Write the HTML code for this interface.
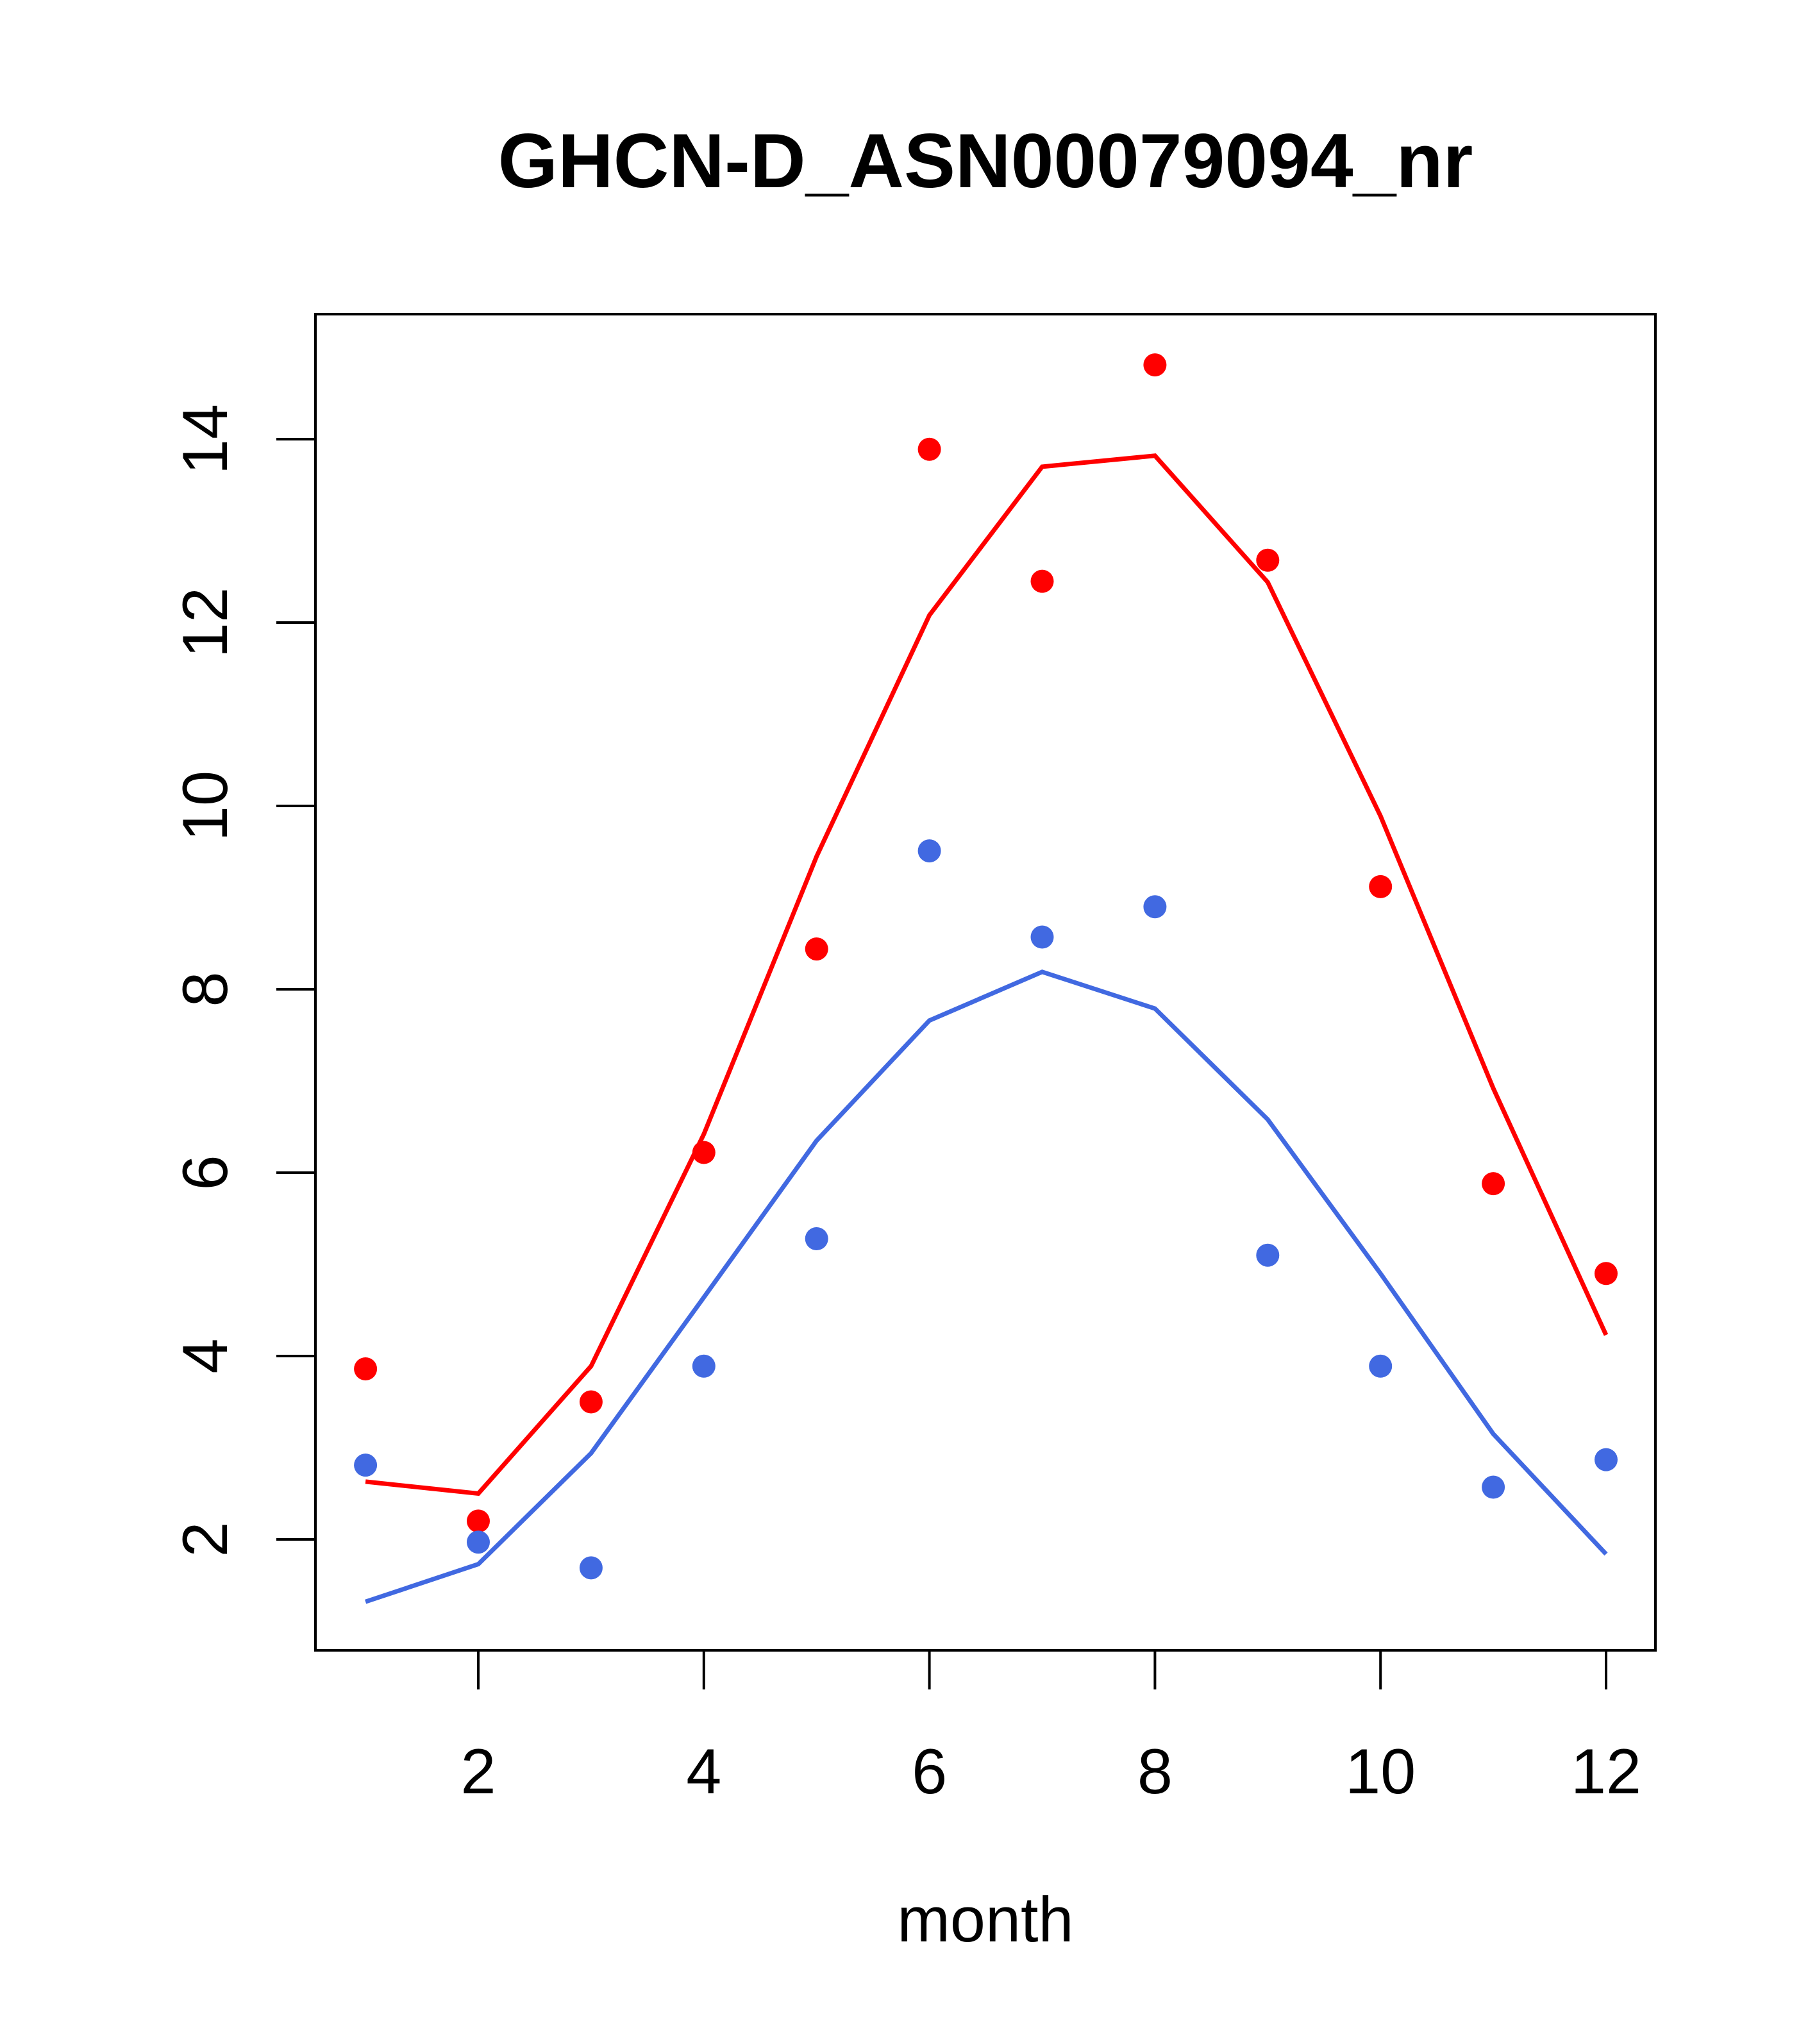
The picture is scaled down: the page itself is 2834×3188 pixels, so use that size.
<!DOCTYPE html>
<html><head><meta charset="utf-8"><style>html,body{margin:0;padding:0;background:#fff}svg{display:block}</style></head>
<body>
<svg id="chart" width="2834" height="3188" viewBox="0 0 2834 3188" xmlns="http://www.w3.org/2000/svg" font-family="'Liberation Sans', Arial, sans-serif">
<rect width="2834" height="3188" fill="#fff"/>
<text x="1537" y="292" font-size="120" font-weight="bold" text-anchor="middle">GHCN-D_ASN00079094_nr</text>
<text x="1537" y="3028" font-size="99" text-anchor="middle">month</text>
<g id="plot"></g>
<rect x="492" y="490" width="2090" height="2084" fill="none" stroke="#000" stroke-width="4"/>
</svg>
<script>
const months = [1,2,3,4,5,6,7,8,9,10,11,12];
const redPoints = [3.86,2.2,3.5,6.22,8.44,13.89,12.45,14.81,12.68,9.12,5.88,4.9];
const redLine = [2.63,2.5,3.89,6.42,9.45,12.08,13.70,13.82,12.44,9.89,6.92,4.23];
const bluePoints = [2.81,1.97,1.69,3.89,5.28,9.51,8.57,8.9,5.1,3.89,2.57,2.87];
const blueLine = [1.32,1.73,2.94,4.64,6.35,7.66,8.19,7.79,6.58,4.9,3.15,1.84];
const xTicks = [2,4,6,8,10,12];
const yTicks = [2,4,6,8,10,12,14];

const NS = 'http://www.w3.org/2000/svg';
const g = document.getElementById('plot');
function xs(m){ return 746 + (m-2)*(2505-746)/10; }
function ys(v){ return 2401 - (v-2)*(2401-685)/12; }
function mk(t, a){ const e=document.createElementNS(NS,t); for(const k in a) e.setAttribute(k,a[k]); g.appendChild(e); return e; }

xTicks.forEach(t=>{
  const l = mk('line',{x1:xs(t),x2:xs(t),y1:2574,y2:2635,stroke:'#000','stroke-width':4});
  
  
  const tx = mk('text',{x:xs(t),y:2797,'font-size':99,'text-anchor':'middle'});
  tx.textContent = t;
  
  
});
yTicks.forEach(t=>{
  const l = mk('line',{x1:431,x2:492,y1:ys(t),y2:ys(t),stroke:'#000','stroke-width':4});
  
  
  const tx = mk('text',{x:0,y:0,'font-size':99,'text-anchor':'middle',transform:`translate(354,${ys(t)}) rotate(-90)`});
  tx.textContent = t;
  
  
});
function line(vals,color,name){
  const p = mk('polyline',{points:vals.map((v,i)=>xs(months[i])+','+ys(v)).join(' '),fill:'none',stroke:color,'stroke-width':7});
  
  
}
function pts(vals,color,name){
  vals.forEach((v,i)=>{
    const c = mk('circle',{cx:xs(months[i]),cy:ys(v),r:18,fill:color});
    
    
  });
}
line(redLine,'#ff0000','red-line');
line(blueLine,'#4169e1','blue-line');
pts(redPoints,'#ff0000','red-point');
pts(bluePoints,'#4169e1','blue-point');
</script>
</body></html>
